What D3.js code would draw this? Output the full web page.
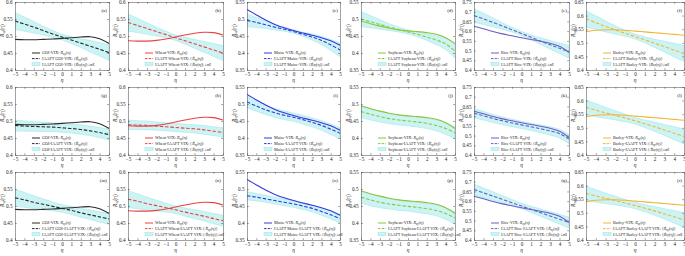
<!DOCTYPE html>
<html><head><meta charset="utf-8">
<script src="https://cdn.jsdelivr.net/npm/d3@7"></script>
<style>
body{margin:0;background:#fff;}
text{font-family:"Liberation Serif","Times New Roman",serif;fill:#222;}
</style></head>
<body><svg id="c" width="685" height="256"></svg>
<script>
const eta = [-5,-4,-3,-2,-1,0,1,2,3,4,5];
const crops = ["GOI","Wheat","Maize","Soybean","Rice","Barley"];
const colors = ["#2b2b2b","#ee4040","#3636e0","#8cc63a","#6a5cc8","#f2b535"];
const yDomains = [[0.4,0.6],[0.4,0.6],[0.35,0.55],[0.35,0.55],[0.4,0.75],[0.4,0.65]];
const panelLetters = [["a","b","c","d","e","f"],["g","h","i","j","k","l"],["m","n","o","p","q","r"]];

// empirical R_xy(eta) (same in all rows)
const empGOI     = [0.490,0.489,0.489,0.490,0.491,0.493,0.495,0.497,0.498,0.492,0.478];
const empWheat   = [0.486,0.485,0.485,0.487,0.491,0.497,0.503,0.508,0.511,0.510,0.503];
const empMaize   = [0.528,0.512,0.497,0.484,0.474,0.466,0.459,0.452,0.445,0.436,0.423];
const empSoybean = [0.494,0.486,0.479,0.473,0.468,0.465,0.463,0.460,0.455,0.445,0.428];
const empRice    = [0.625,0.612,0.598,0.586,0.576,0.566,0.557,0.548,0.538,0.522,0.490];
const empBarley  = [0.541,0.546,0.548,0.548,0.546,0.543,0.540,0.537,0.534,0.531,0.528];

// surrogate means, row 1 (IAAFT X - VIX)
const meanRow1 = [
  [0.544,0.535,0.526,0.516,0.506,0.497,0.488,0.479,0.470,0.461,0.451],
  [0.540,0.531,0.522,0.513,0.504,0.495,0.486,0.477,0.468,0.459,0.450],
  [0.496,0.490,0.483,0.476,0.470,0.463,0.455,0.447,0.437,0.424,0.409],
  [0.500,0.492,0.484,0.476,0.469,0.462,0.455,0.447,0.438,0.427,0.405],
  [0.680,0.663,0.645,0.626,0.607,0.588,0.568,0.549,0.530,0.512,0.494],
  [0.588,0.574,0.560,0.547,0.535,0.523,0.511,0.498,0.486,0.473,0.461]];
const sdRow1 = [
  [0.025,0.021,0.017,0.013,0.010,0.008,0.010,0.013,0.017,0.020,0.023],
  [0.025,0.021,0.017,0.013,0.010,0.008,0.010,0.013,0.016,0.019,0.022],
  [0.019,0.015,0.011,0.008,0.006,0.005,0.006,0.009,0.012,0.016,0.020],
  [0.022,0.018,0.014,0.010,0.007,0.006,0.007,0.010,0.013,0.017,0.020],
  [0.035,0.029,0.023,0.017,0.012,0.010,0.012,0.017,0.022,0.027,0.032],
  [0.030,0.025,0.020,0.015,0.011,0.009,0.011,0.015,0.020,0.025,0.029]];
// row 2 (X - IAAFT VIX)
const meanRow2 = [
  [0.487,0.485,0.484,0.483,0.482,0.480,0.478,0.475,0.471,0.466,0.460],
  [0.489,0.488,0.487,0.485,0.483,0.481,0.479,0.477,0.474,0.470,0.466],
  [0.506,0.494,0.483,0.474,0.467,0.461,0.454,0.446,0.437,0.426,0.414],
  [0.478,0.470,0.463,0.457,0.453,0.450,0.447,0.443,0.437,0.428,0.415],
  [0.615,0.602,0.588,0.576,0.565,0.555,0.545,0.535,0.524,0.510,0.482],
  [0.575,0.565,0.555,0.546,0.536,0.526,0.515,0.504,0.492,0.480,0.468]];
const sdRow2 = [
  [0.016,0.015,0.014,0.014,0.013,0.013,0.013,0.014,0.014,0.015,0.016],
  [0.014,0.013,0.013,0.012,0.012,0.012,0.012,0.012,0.013,0.013,0.014],
  [0.016,0.015,0.014,0.013,0.013,0.012,0.013,0.013,0.014,0.015,0.016],
  [0.018,0.017,0.016,0.015,0.015,0.014,0.015,0.015,0.016,0.017,0.018],
  [0.024,0.022,0.021,0.020,0.019,0.019,0.019,0.020,0.021,0.022,0.024],
  [0.027,0.024,0.020,0.017,0.014,0.012,0.014,0.017,0.020,0.024,0.027]];
// row 3 (IAAFT X - IAAFT VIX)
const meanRow3 = [
  [0.524,0.518,0.511,0.505,0.499,0.493,0.487,0.480,0.474,0.468,0.462],
  [0.520,0.514,0.507,0.501,0.495,0.489,0.482,0.476,0.470,0.463,0.457],
  [0.480,0.476,0.471,0.466,0.461,0.456,0.450,0.443,0.434,0.424,0.413],
  [0.476,0.468,0.461,0.456,0.452,0.449,0.446,0.442,0.437,0.428,0.415],
  [0.660,0.643,0.626,0.609,0.592,0.575,0.558,0.541,0.524,0.507,0.490],
  [0.571,0.562,0.553,0.545,0.536,0.527,0.517,0.507,0.496,0.485,0.474]];
const sdRow3 = [
  [0.025,0.022,0.019,0.016,0.013,0.011,0.012,0.013,0.014,0.015,0.016],
  [0.025,0.022,0.019,0.016,0.013,0.011,0.012,0.013,0.014,0.015,0.016],
  [0.012,0.011,0.010,0.010,0.010,0.010,0.010,0.010,0.011,0.012,0.013],
  [0.018,0.017,0.016,0.015,0.015,0.014,0.015,0.015,0.016,0.017,0.018],
  [0.028,0.025,0.022,0.019,0.016,0.014,0.016,0.019,0.022,0.025,0.028],
  [0.027,0.023,0.019,0.016,0.013,0.012,0.013,0.016,0.019,0.023,0.027]];

const empAll = [empGOI,empWheat,empMaize,empSoybean,empRice,empBarley];
const meanAll = [meanRow1,meanRow2,meanRow3];
const sdAll = [sdRow1,sdRow2,sdRow3];

// layout
const colL = [15,128,247,361,474,586], colR = [109,223,340,455,569,684];
const rowT = [2,87,172], plotH = 68;

const svg = d3.select("#c");
const defs = svg.append("defs");
const fs = 4.2;

function richText(g, x, y, parts, anchor, size){
  const f = size || fs;
  const t = g.append("text").attr("x",x).attr("y",y).attr("font-size",f).attr("text-anchor",anchor||"start");
  parts.forEach(p=>{
    const s = t.append("tspan").text(p.t);
    if(p.i) s.attr("font-style","italic");
    if(p.sub) s.attr("dy",f*0.22).attr("font-size",f*0.72);
    if(p.unsub) s.attr("dy",-f*0.22);
  });
  return t;
}
function rParts(tilde, pm){
  const a = [];
  if(tilde) a.push({t:"⟨"});
  a.push({t: tilde ? "R\u0303" : "R", i:true});
  a.push({t:"xy", i:true, sub:true});
  a.push({t:"(η)", unsub:true});
  if(tilde) a.push({t:"⟩"});
  if(pm){ a.push({t:"±σ"}); a.push({t:"R",i:true,sub:true}); }
  return a;
}

for(let r=0;r<3;r++){
  for(let c=0;c<6;c++){
    const x = d3.scaleLinear().domain([-5,5]).range([colL[c],colR[c]]);
    const y = d3.scaleLinear().domain(yDomains[c]).range([rowT[r]+plotH,rowT[r]]);
    const g = svg.append("g");
    const cid = "clip"+r+"_"+c;
    defs.append("clipPath").attr("id",cid).append("rect")
      .attr("x",colL[c]).attr("y",rowT[r]).attr("width",colR[c]-colL[c]).attr("height",plotH);
    const pg = g.append("g").attr("clip-path","url(#"+cid+")");
    const mean = meanAll[r][c], sd = sdAll[r][c], emp = empAll[c];
    const curve = d3.curveCatmullRom.alpha(0.5);
    const area = d3.area().x((d,i)=>x(eta[i])).y0((d,i)=>y(mean[i]-sd[i])).y1((d,i)=>y(mean[i]+sd[i])).curve(curve);
    pg.append("path").attr("d",area(eta)).attr("fill","#cdf4f4").attr("stroke","#93e3e6").attr("stroke-width",0.5);
    const line = d3.line().x((d,i)=>x(eta[i])).curve(curve);
    pg.append("path").attr("d",line.y((d,i)=>y(emp[i]))(eta)).attr("fill","none").attr("stroke",colors[c]).attr("stroke-width",1.1);
    pg.append("path").attr("d",line.y((d,i)=>y(mean[i]))(eta)).attr("fill","none").attr("stroke",colors[c]).attr("stroke-width",1.1).attr("stroke-dasharray","3.5,1.8");

    // axes
    const yt = d3.range(Math.round(yDomains[c][0]*100), Math.round(yDomains[c][1]*100)+1, 5).map(v=>v/100);
    const fmt = v => String(+v.toFixed(2));
    const ax = g.append("g").attr("transform",`translate(0,${rowT[r]+plotH})`)
      .call(d3.axisBottom(x).tickValues(eta).tickSizeInner(-1.8).tickSizeOuter(0).tickPadding(2.5).tickFormat(d3.format("d")));
    const ay = g.append("g").attr("transform",`translate(${colL[c]},0)`)
      .call(d3.axisLeft(y).tickValues(yt).tickSizeInner(-1.8).tickSizeOuter(0).tickPadding(2.5).tickFormat(fmt));
    const at = g.append("g").attr("transform",`translate(0,${rowT[r]})`)
      .call(d3.axisTop(x).tickValues(eta).tickSizeInner(-1.8).tickSizeOuter(0).tickFormat(""));
    const ar = g.append("g").attr("transform",`translate(${colR[c]},0)`)
      .call(d3.axisRight(y).tickValues(yt).tickSizeInner(-1.8).tickSizeOuter(0).tickFormat(""));
    [ax,ay,at,ar].forEach(a=>{
      a.selectAll("path").attr("stroke","#444").attr("stroke-width",0.5);
      a.selectAll("line").attr("stroke","#444").attr("stroke-width",0.5);
      a.selectAll("text").attr("font-size",5.2).attr("font-family","Liberation Serif").attr("fill","#222");
    });
    // axis titles
    g.append("text").attr("x",(colL[c]+colR[c])/2).attr("y",rowT[r]+plotH+12)
      .attr("text-anchor","middle").attr("font-size",5.5).attr("font-style","italic").text("η");
    const ylx = colL[c]-11.5, yly = rowT[r]+plotH*0.42;
    const yl = richText(g, 0, 0, rParts(false,false), "middle", 5.2);
    yl.attr("transform",`translate(${ylx},${yly}) rotate(-90)`);
    // panel letter
    g.append("text").attr("x",colR[c]-2).attr("y",rowT[r]+10).attr("text-anchor","end")
      .attr("font-size",5).text("("+panelLetters[r][c]+")");
    // legend
    const nm = crops[c];
    const names = [
      nm+"-VIX: ",
      r===0 ? "IAAFT "+nm+"-VIX: " : r===1 ? nm+"-IAAFT VIX: " : "IAAFT "+nm+"-IAAFT VIX: "
    ];
    const lx = colL[c]+17, ly0 = rowT[r]+plotH-17;
    const ent = [
      {y:ly0, kind:"solid", parts:[{t:names[0]}].concat(rParts(false,false))},
      {y:ly0+5.6, kind:"dash", parts:[{t:names[1]}].concat(rParts(true,false))},
      {y:ly0+11.2, kind:"band", parts:[{t:names[1]}].concat(rParts(true,true))}
    ];
    ent.forEach(e=>{
      if(e.kind==="band"){
        g.append("rect").attr("x",lx).attr("y",e.y-1.8).attr("width",8).attr("height",3.2)
          .attr("fill","#cdf4f4").attr("stroke","#93e3e6").attr("stroke-width",0.5);
      } else {
        const l = g.append("line").attr("x1",lx).attr("x2",lx+8).attr("y1",e.y).attr("y2",e.y)
          .attr("stroke",colors[c]).attr("stroke-width",1);
        if(e.kind==="dash") l.attr("stroke-dasharray","2.5,1.2");
      }
      richText(g, lx+10, e.y+1.3, e.parts, "start");
    });
  }
}
</script></body></html>
